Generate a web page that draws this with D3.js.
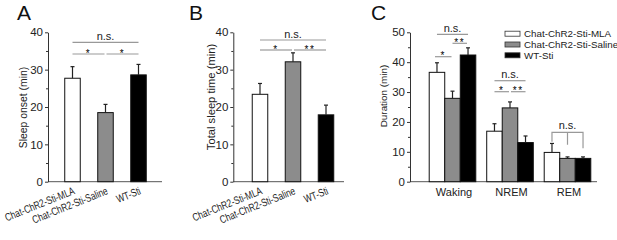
<!DOCTYPE html>
<html>
<head>
<meta charset="utf-8">
<script src="https://cdn.jsdelivr.net/npm/d3@7"></script>
<style>
  body { margin: 0; background: #fff; }
  svg { display: block; font-family: Arial, "Liberation Sans", sans-serif; }
</style>
</head>
<body>
<div id="chart"></div>
<script>
// groups in panels A and B, series in panel C
const groups = ["Chat-ChR2-Sti-MLA", "Chat-ChR2-Sti-Saline", "WT-Sti"]
const fills = ["#ffffff", "#8c8c8c", "#000000"]

// A: sleep onset (min)
const onsetMean = [27.7, 18.5, 28.6]
const onsetErr = [3.1, 2.2, 2.8]

// B: total sleep time (min)
const totalMean = [23.4, 32.1, 17.9]
const totalErr = [2.9, 2.4, 2.6]

// C: duration by stage (min)
const stages = ["Waking", "NREM", "REM"]
const mlaMean = [36.6, 16.9, 9.8]
const mlaErr = [3.2, 2.5, 3.0]
const salineMean = [27.9, 24.7, 7.8]
const salineErr = [2.4, 2.0, 0.5]
const wtMean = [42.4, 13.1, 7.8]
const wtErr = [2.4, 2.2, 0.5]

const ticksAB = [0, 10, 20, 30, 40]
const ticksC = [0, 10, 20, 30, 40, 50]

// pairwise comparisons (indices into groups)
const compA = [
    { a: 0, b: 2, label: "n.s.", level: 1 },
    { a: 0, b: 1, label: "*", level: 0 },
    { a: 1, b: 2, label: "*", level: 0 }
]
const compB = [
    { a: 0, b: 2, label: "n.s.", level: 1 },
    { a: 0, b: 1, label: "*", level: 0 },
    { a: 1, b: 2, label: "**", level: 0 }
]

const W = 617, H = 240
const svg = d3.select("#chart").append("svg")
    .attr("width", W)
    .attr("height", H)

const axisY = 181.7, topY = 32.3
const ink = "#222"

function yAxis(g, y, x0, major) {
    const minor = d3.range(major[0] + 5, major[major.length - 1], 10)
    g.append("g")
        .attr("transform", "translate(" + x0 + ",0)")
        .call(d3.axisLeft(y).tickValues(minor).tickSize(2).tickFormat("").tickSizeOuter(0))
        .call(a => a.select(".domain").remove())
        .selectAll("line").attr("stroke", "#333")
    const ax = g.append("g")
        .attr("transform", "translate(" + x0 + ",0)")
        .call(d3.axisLeft(y).tickValues(major).tickSize(3).tickPadding(2).tickSizeOuter(0))
    ax.select(".domain").attr("stroke", "#333")
    ax.selectAll("line").attr("stroke", "#333")
    ax.selectAll("text")
        .attr("font-size", 11.5)
        .attr("font-family", "Arial, 'Liberation Sans', sans-serif")
        .attr("fill", ink)
}

function bars(g, data, y) {
    g.selectAll("rect.bar")
        .data(data)
        .enter().append("rect")
        .attr("class", "bar")
        .attr("x", d => d.x)
        .attr("width", d => d.w)
        .attr("y", d => y(d.mean))
        .attr("height", d => y(0) - y(d.mean))
        .attr("fill", d => d.fill)
        .attr("stroke", "#111")
        .attr("stroke-width", 1)
    const eb = g.selectAll("g.err")
        .data(data)
        .enter().append("g")
        .attr("class", "err")
        .attr("stroke", "#222")
        .attr("stroke-width", 1.2)
    eb.append("line")
        .attr("x1", d => d.x + d.w / 2).attr("x2", d => d.x + d.w / 2)
        .attr("y1", d => y(d.mean)).attr("y2", d => y(d.mean + d.err))
    eb.append("line")
        .attr("x1", d => d.x + d.w / 2 - 2).attr("x2", d => d.x + d.w / 2 + 2)
        .attr("y1", d => y(d.mean + d.err)).attr("y2", d => y(d.mean + d.err))
}

function sig(g, x1, x2, ly, label) {
    g.append("line")
        .attr("x1", x1).attr("x2", x2)
        .attr("y1", ly).attr("y2", ly)
        .attr("stroke", "#999").attr("stroke-width", 1.2)
    const star = label.indexOf("*") >= 0
    g.append("text")
        .attr("x", (x1 + x2) / 2)
        .attr("y", star ? ly + 2.5 : ly - 2.5)
        .attr("text-anchor", "middle")
        .attr("font-size", star ? 10 : 11)
        .attr("letter-spacing", star ? 1.5 : 0)
        .attr("fill", star ? "#000" : ink)
        .text(label)
}

function letter(x, t) {
    svg.append("text")
        .attr("x", x).attr("y", 20)
        .attr("font-size", 21)
        .attr("fill", "#111")
        .text(t)
}

function yTitle(x, cy, size, t) {
    svg.append("text")
        .attr("transform", "translate(" + x + "," + cy + ") rotate(-90)")
        .attr("text-anchor", "middle")
        .attr("font-size", size)
        .attr("fill", ink)
        .text(t)
}

// panels A and B
function simplePanel(cfg) {
    const g = svg.append("g")
    const y = d3.scaleLinear().domain([0, 40]).range([axisY, topY])
    const x = d3.scaleBand().domain(groups)
        .range(cfg.range).paddingInner(0.53).paddingOuter(0.265)

    g.append("line")
        .attr("x1", cfg.axisX).attr("x2", cfg.axisEnd)
        .attr("y1", axisY).attr("y2", axisY)
        .attr("stroke", "#555")
    yAxis(g, y, cfg.axisX, ticksAB)

    const data = groups.map((k, i) => ({
        x: x(k), w: x.bandwidth(), mean: cfg.mean[i], err: cfg.err[i], fill: fills[i]
    }))
    bars(g, data, y)

    const cx = k => x(k) + x.bandwidth() / 2
    cfg.comp.forEach(c => {
        const ly = c.level ? cfg.levels[1] : cfg.levels[0]
        let x1 = cx(groups[c.a]), x2 = cx(groups[c.b])
        if (!c.level) { if (c.a === 1) x1 += 1; else x2 -= 1 }
        sig(g, x1, x2, ly, c.label)
    })

    // rotated, narrow category labels
    g.selectAll("text.xl")
        .data(groups)
        .enter().append("text")
        .attr("class", "xl")
        .attr("transform", k => "translate(" + (cx(k) + 3) + "," + (axisY + 12) + ") rotate(-22) scale(0.76,1)")
        .attr("text-anchor", "end")
        .attr("font-size", 11)
        .attr("fill", ink)
        .text(k => k)

    letter(cfg.letterX, cfg.letter)
    yTitle(cfg.titleX, cfg.titleY, cfg.titleSize, cfg.title)
}

simplePanel({
    letter: "A", letterX: 17, axisX: 48, axisEnd: 162, range: [56, 155],
    mean: onsetMean, err: onsetErr, comp: compA, levels: [54, 42.3],
    title: "Sleep onset (min)", titleX: 26.5, titleY: 107.5, titleSize: 10.4
})
simplePanel({
    letter: "B", letterX: 189, axisX: 233.3, axisEnd: 344, range: [243.5, 342.5],
    mean: totalMean, err: totalErr, comp: compB, levels: [50, 40],
    title: "Total sleep time (min)", titleX: 215, titleY: 97, titleSize: 11.2
})

// panel C
const gc = svg.append("g")
const yC = d3.scaleLinear().domain([0, 50]).range([axisY, topY])
const xC = d3.scaleBand().domain(stages)
    .range([423.75, 596.25]).paddingInner(0.19).paddingOuter(0.095)
const xS = d3.scaleBand().domain(groups).range([0, xC.bandwidth()])

gc.append("line")
    .attr("x1", 410).attr("x2", 597)
    .attr("y1", axisY).attr("y2", axisY)
    .attr("stroke", "#555")
yAxis(gc, yC, 410, ticksC)

const seriesMean = [mlaMean, salineMean, wtMean]
const seriesErr = [mlaErr, salineErr, wtErr]
const dataC = []
stages.forEach((s, j) => groups.forEach((k, i) => dataC.push({
    x: xC(s) + xS(k), w: xS.bandwidth(), mean: seriesMean[i][j], err: seriesErr[i][j], fill: fills[i]
})))
bars(gc, dataC, yC)

const cC = (s, i) => xC(s) + xS(groups[i]) + xS.bandwidth() / 2
// Waking
sig(gc, cC("Waking", 0), cC("Waking", 2), 34.3, "n.s.")
sig(gc, cC("Waking", 0) - 2, cC("Waking", 1) - 1, 56.7, "*")
sig(gc, cC("Waking", 1) + 0, cC("Waking", 2) - 1, 43.3, "**")
// NREM
sig(gc, cC("NREM", 0), cC("NREM", 2), 80.7, "n.s.")
sig(gc, cC("NREM", 0), cC("NREM", 1) - 1, 91.7, "*")
sig(gc, cC("NREM", 1) + 1, cC("NREM", 2), 91.7, "**")
// REM bracket
const remTop = 132.3
gc.append("path")
    .attr("d", "M" + cC("REM", 0) + "," + (remTop + 9.5) + "V" + remTop + "H" + cC("REM", 2) + "V" + (remTop + 16)
        + "M" + cC("REM", 1) + "," + remTop + "V" + (remTop + 12.5))
    .attr("fill", "none").attr("stroke", "#999").attr("stroke-width", 1.2)
gc.append("text")
    .attr("x", cC("REM", 1)).attr("y", remTop - 3)
    .attr("text-anchor", "middle").attr("font-size", 11).attr("fill", ink)
    .text("n.s.")

gc.selectAll("text.stage")
    .data(stages)
    .enter().append("text")
    .attr("class", "stage")
    .attr("x", s => xC(s) + xC.bandwidth() / 2 + 1.5)
    .attr("y", 196)
    .attr("text-anchor", "middle")
    .attr("font-size", 11)
    .attr("fill", ink)
    .text(s => s)

// legend
const leg = gc.selectAll("g.leg")
    .data(groups)
    .enter().append("g")
    .attr("class", "leg")
    .attr("transform", (k, i) => "translate(505," + (33.7 + i * 10.8) + ")")
leg.append("rect")
    .attr("x", 0).attr("y", -2.5)
    .attr("width", 15).attr("height", 5)
    .attr("fill", (k, i) => fills[i])
    .attr("stroke", "#333").attr("stroke-width", 0.8)
leg.append("text")
    .attr("x", 19).attr("y", 3.5)
    .attr("font-size", 9.8)
    .attr("fill", ink)
    .text(k => k)

letter(371, "C")
yTitle(387, 96, 9.9, "Duration (min)")
</script>
</body>
</html>
